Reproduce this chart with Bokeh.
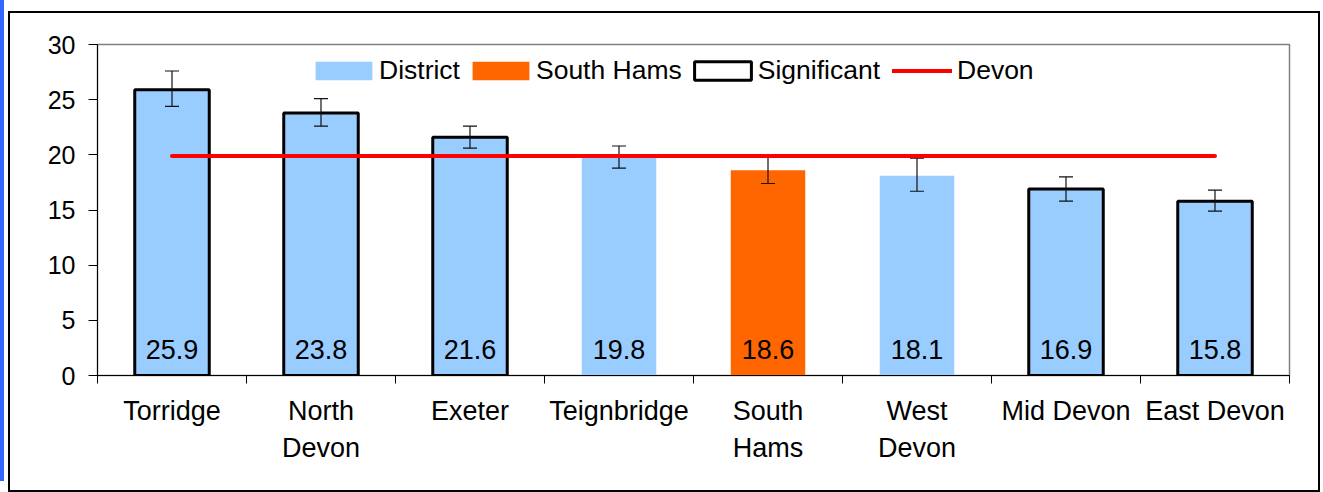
from bokeh.plotting import figure
from bokeh.models import (ColumnDataSource, Range1d, FixedTicker, Whisker, Legend, LegendItem)
from bokeh.core.properties import value
from bokeh.embed import file_html
from bokeh.resources import INLINE

categories = ["Torridge", "North\nDevon", "Exeter", "Teignbridge", "South\nHams", "West\nDevon", "Mid Devon", "East Devon"]
values = [25.9, 23.8, 21.6, 19.8, 18.6, 18.1, 16.9, 15.8]
lower = [24.4, 22.6, 20.6, 18.8, 17.4, 16.7, 15.8, 14.9]
upper = [27.6, 25.1, 22.6, 20.8, 19.9, 19.7, 18.0, 16.8]
group = ["Significant", "Significant", "Significant", "District", "South Hams", "District", "Significant", "Significant"]
devon = 19.9
y_ticks = [0, 5, 10, 15, 20, 25, 30]

FONT = "Liberation Sans"
BLUE = "#99CCFF"
ORANGE = "#FF6600"
RED = "#FF0000"

n = len(categories)
xs = list(range(1, n + 1))
fill = [ORANGE if g == "South Hams" else BLUE for g in group]
line_alpha = [1 if g == "Significant" else 0 for g in group]

src = ColumnDataSource(dict(x=xs, top=values, lower=lower, upper=upper, fill=fill,
                            lc=["black"] * n, la=line_alpha,
                            label=[f"{v:.1f}" for v in values], zero=[0] * n))

p = figure(width=1312, height=481, output_backend="svg", toolbar_location=None,
           x_range=Range1d(0.5, n + 0.5), y_range=Range1d(0, 30))
p.min_border_left = 87
p.min_border_right = 33
p.min_border_top = 31
p.min_border_bottom = 119
p.styles = {"border": "2px solid black", "box-sizing": "border-box",
            "margin-left": "8px", "margin-top": "11px",
            "box-shadow": "-4px -11px 0 0 white, -8px -11px 0 0 #3366FF"}
p.grid.visible = False
p.outline_line_color = "#808080"
p.outline_line_width = 1.5

p.vbar(x="x", top="top", width=0.5, bottom=0, source=src, fill_color="fill",
       line_color="lc", line_alpha="la", line_width=3)

wh = Whisker(base="x", lower="lower", upper="upper", source=src, line_color="#111111",
             line_width=1.2, level="guide")
for head in (wh.upper_head, wh.lower_head):
    head.size = 14
    head.line_color = "#111111"
    head.line_width = 1.2
p.add_layout(wh)

dl = p.line(x=[xs[0], xs[-1]], y=[devon, devon], line_color=RED, line_width=4, line_cap="round")
dl.level = "annotation"

p.text(x="x", y="zero", text="label", source=src, text_align="center", text_baseline="middle",
       y_offset=-26, text_font=value(FONT), text_font_size="27px", text_color="black")

# axes
p.yaxis.ticker = FixedTicker(ticks=y_ticks)
p.yaxis.major_tick_out = 9
p.yaxis.major_tick_in = 0
p.yaxis.minor_tick_line_color = None
p.yaxis.major_label_text_font = FONT
p.yaxis.major_label_text_font_size = "25px"
p.yaxis.major_label_text_color = "black"
p.yaxis.major_label_standoff = 13
p.yaxis.axis_line_color = "black"
p.yaxis.major_tick_line_color = "black"

p.xaxis.ticker = FixedTicker(ticks=xs, minor_ticks=[i + 0.5 for i in range(0, n + 1)])
p.xaxis.major_tick_out = 0
p.xaxis.major_tick_in = 0
p.xaxis.minor_tick_out = 8
p.xaxis.minor_tick_in = 0
p.xaxis.minor_tick_line_color = "black"
p.xaxis.major_label_overrides = {x: c for x, c in zip(xs, categories)}
p.xaxis.major_label_text_font = FONT
p.xaxis.major_label_text_font_size = "27px"
p.xaxis.major_label_text_color = "black"
p.xaxis.major_label_text_line_height = 1.25
p.xaxis.major_label_standoff = 12
p.xaxis.axis_line_color = "black"

# legend
r1 = p.rect(x=[0], y=[-10], width=1, height=1, fill_color=BLUE, line_color=None)
r2 = p.rect(x=[0], y=[-10], width=1, height=1, fill_color=ORANGE, line_color=None)
r3 = p.rect(x=[0], y=[-10], width=1, height=1, fill_color="white", line_color="black", line_width=3)
r4 = p.line(x=[0, 0.1], y=[-10, -10], line_color=RED, line_width=4, line_cap="round")

common = dict(orientation="horizontal", padding=0, margin=0, border_line_color=None,
              background_fill_alpha=0, label_text_font=FONT, label_text_font_size="26.5px",
              label_text_color="black", label_height=18)
legend1 = Legend(items=[LegendItem(label="District", renderers=[r1]),
                        LegendItem(label="South Hams", renderers=[r2]),
                        LegendItem(label="Significant", renderers=[r3])],
                 location=(211, 289), glyph_width=71, glyph_height=23, label_standoff=0,
                 spacing=5, **common)
legend2 = Legend(items=[LegendItem(label="Devon", renderers=[r4])],
                 location=(795, 289), glyph_width=60, glyph_height=23, label_standoff=5,
                 spacing=8, **common)
p.add_layout(legend1, "center")
p.add_layout(legend2, "center")

open("out.html", "w").write(file_html(p, INLINE))
